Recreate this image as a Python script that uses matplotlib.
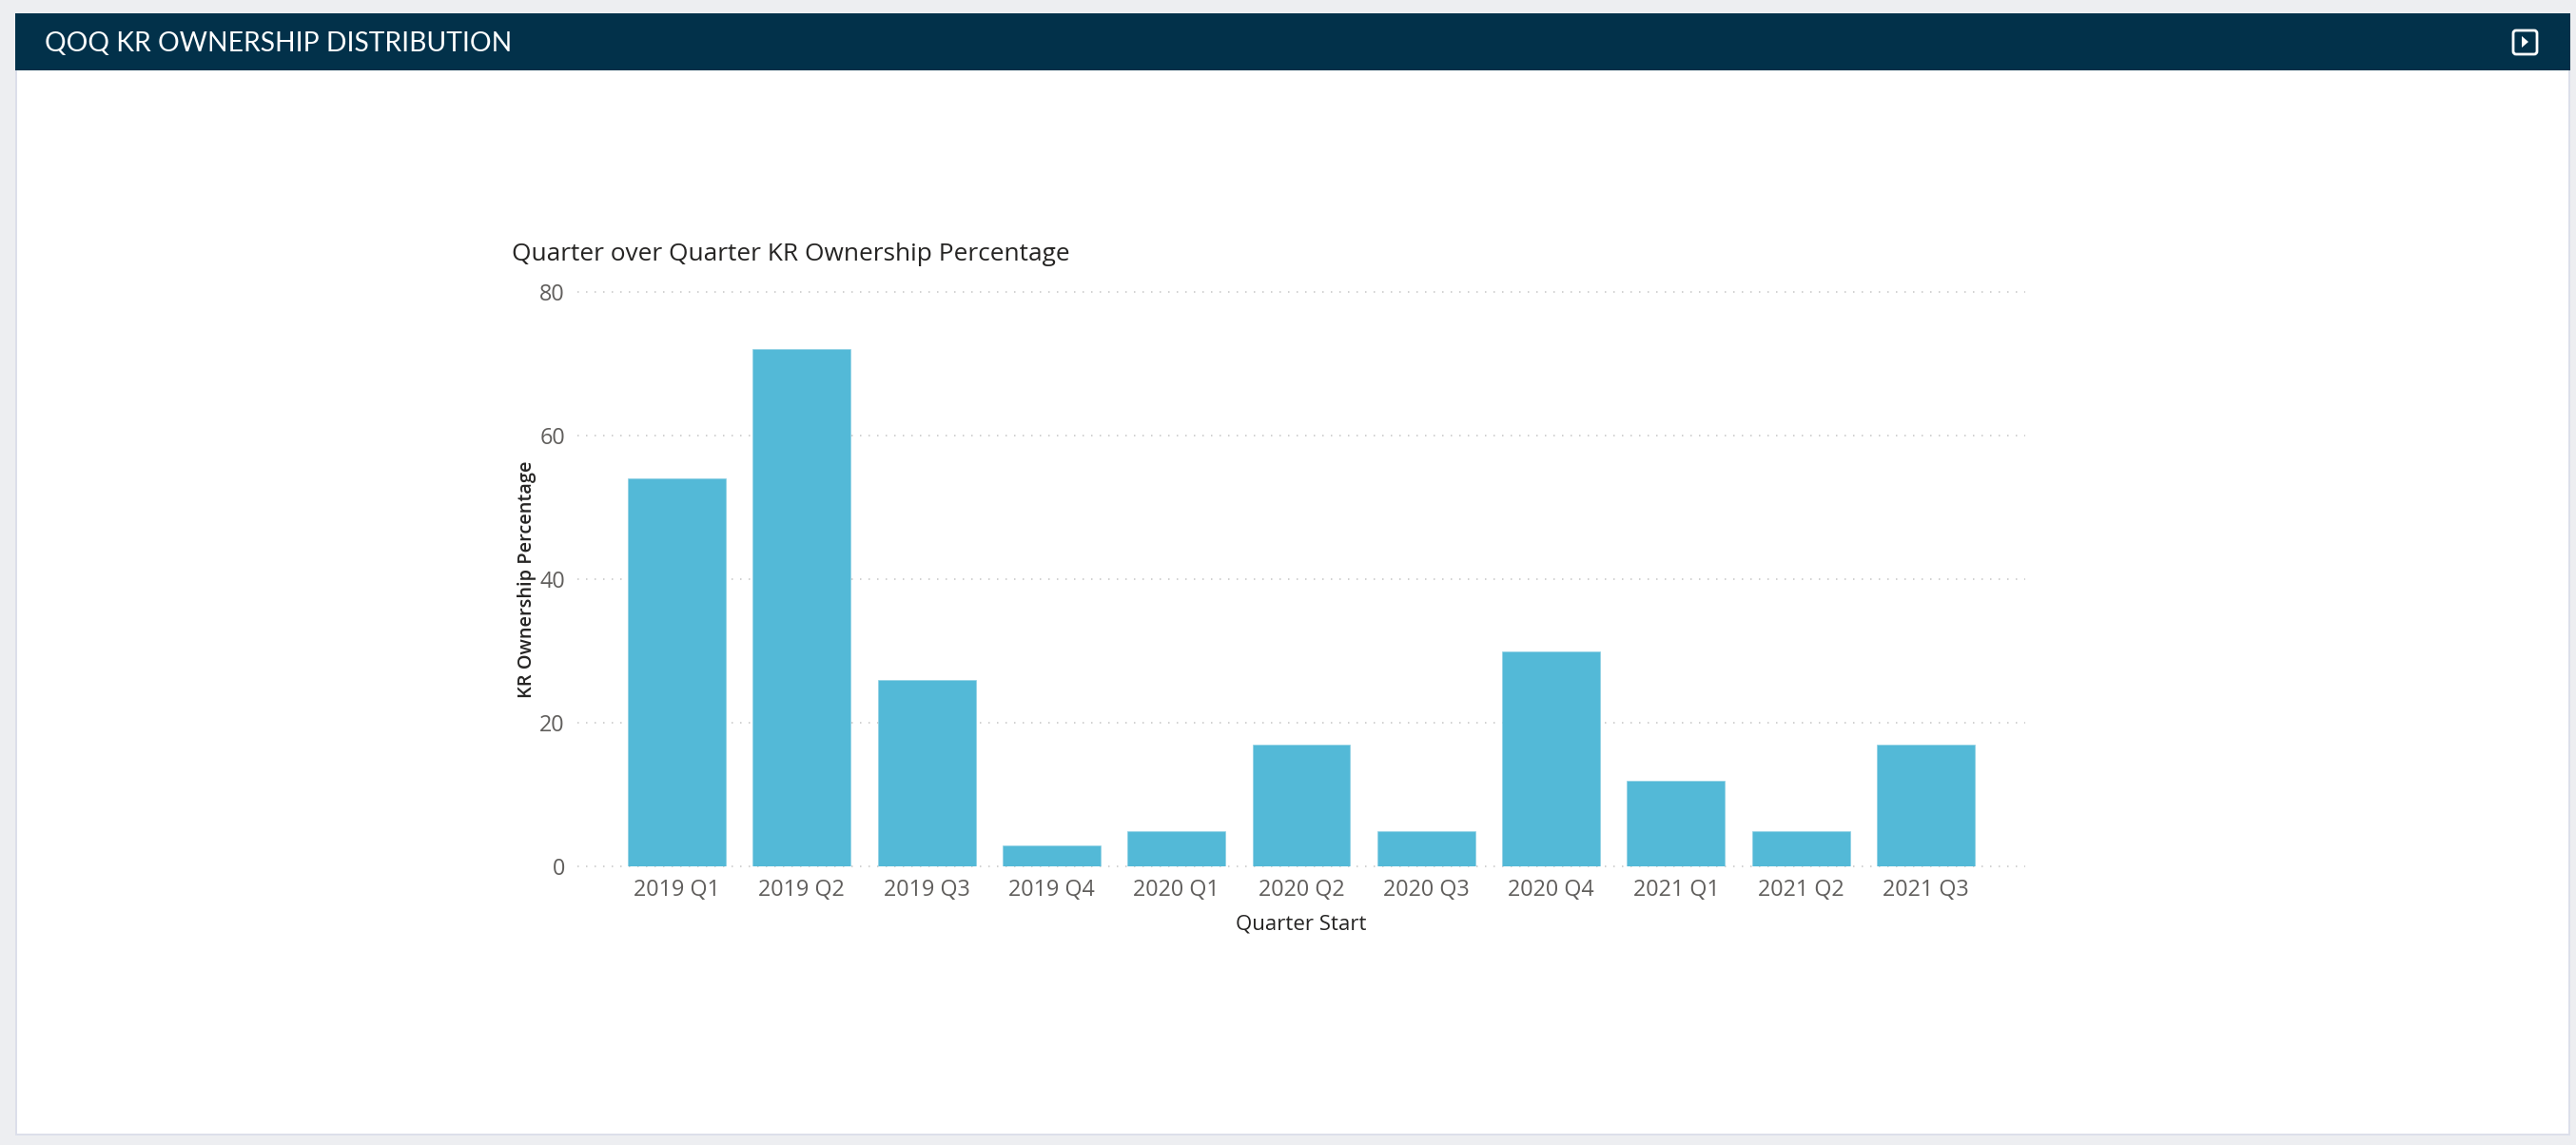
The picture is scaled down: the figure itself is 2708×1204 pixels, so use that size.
import matplotlib
matplotlib.use('Agg')
import matplotlib.pyplot as plt
from matplotlib.patches import Rectangle, FancyBboxPatch, Polygon

quarters = ['2019 Q1', '2019 Q2', '2019 Q3', '2019 Q4', '2020 Q1', '2020 Q2',
            '2020 Q3', '2020 Q4', '2021 Q1', '2021 Q2', '2021 Q3']
ownership_pct = [54, 72, 26, 3, 5, 17, 5, 30, 12, 5, 17]
y_ticks = [0, 20, 40, 60, 80]

W, H = 2708, 1204
plt.rcParams['font.family'] = ['Open Sans', 'DejaVu Sans']

fig = plt.figure(figsize=(W / 100, H / 100), dpi=100, facecolor='#edeef1')

# Card and header, laid out in pixels on a full-figure axes
bg = fig.add_axes([0, 0, 1, 1], zorder=0)
bg.set_xlim(0, W)
bg.set_ylim(H, 0)
bg.axis('off')
bg.add_patch(Rectangle((16, 14), 2686, 1180, fc='#dcdfea', ec='none'))
bg.add_patch(Rectangle((18, 14), 2682, 1178, fc='white', ec='none'))
bg.add_patch(Rectangle((16, 14), 2686, 60, fc='#02314a', ec='none'))
bg.text(47, 46, 'QOQ KR OWNERSHIP DISTRIBUTION', color='white', fontsize=20.3,
        family=['Lato', 'DejaVu Sans'], va='center', ha='left')

# Play button in the header
bg.add_patch(FancyBboxPatch((2642, 32), 25, 25, boxstyle='round,pad=0,rounding_size=3',
                            fc='none', ec='white', lw=2.0))
bg.add_patch(Polygon([[2651, 38], [2651, 50], [2658, 44]], fc='white', ec='none'))

bg.text(538, 267.5, 'Quarter over Quarter KR Ownership Percentage', color='#252423',
        fontsize=18.9, va='center', ha='left')

# Chart area
left, right, top, bottom = 607, 2129, 306.7, 911.3
ax = fig.add_axes([left / W, 1 - bottom / H, (right - left) / W, (bottom - top) / H],
                  zorder=1)
ax.patch.set_alpha(0)
x = list(range(len(quarters)))
ax.bar(x, ownership_pct, width=0.784, color='#53b9d7', edgecolor='#8fd0e4',
       linewidth=0.5, zorder=3)

ax.set_xlim(-0.796, 10.796)
ax.set_ylim(0, 80)
ax.set_xticks(x)
ax.set_xticklabels(quarters)
ax.set_yticks(y_ticks)
ax.tick_params(axis='both', length=0, labelsize=16.8, labelcolor='#605e5c')
ax.tick_params(axis='x', pad=9)
ax.tick_params(axis='y', pad=9.4)

ax.grid(axis='y', color='#c4c4c4', linewidth=1.08, linestyle=(0, (1, 5)), clip_on=False, zorder=1)
ax.set_axisbelow(True)
for spine in ax.spines.values():
    spine.set_visible(False)

ax.set_xlabel('Quarter Start', fontsize=16, color='#252423', labelpad=10)
ax.set_ylabel('KR Ownership Percentage', fontsize=14.4, color='#252423', labelpad=2.4,
              fontweight='semibold')

fig.savefig('out.png', dpi=100, facecolor=fig.get_facecolor())
